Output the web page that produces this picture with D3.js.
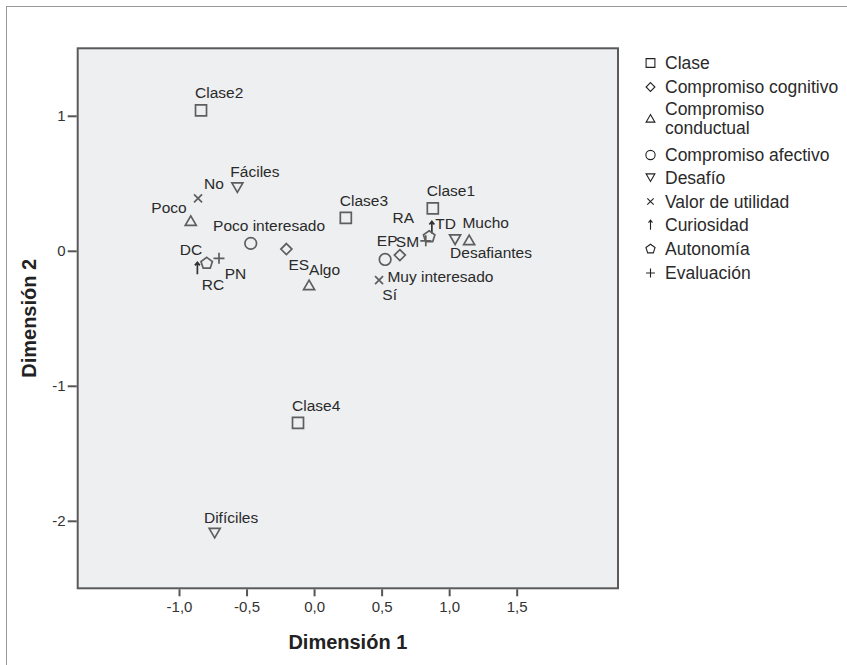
<!DOCTYPE html>
<html>
<head>
<meta charset="utf-8">
<script src="https://d3js.org/d3.v7.min.js"></script>
<style>
  body { margin: 0; background: #fff; }
  text { font-family: "Liberation Sans", Arial, sans-serif; }
</style>
</head>
<body>
<svg id="main_canvas" width="847" height="665"></svg>
<script>
    // categories (legend order)
    const categories = ["Clase", "Compromiso cognitivo", "Compromiso conductual", "Compromiso afectivo",
        "Desafío", "Valor de utilidad", "Curiosidad", "Autonomía", "Evaluación"];

    // points: label, category index, Dimensión 1, Dimensión 2
    const pointLabels = ["Clase1", "Clase2", "Clase3", "Clase4", "ES", "SM", "Poco", "Algo", "Mucho",
        "Poco interesado", "Muy interesado", "Fáciles", "Difíciles", "Desafiantes", "No", "Sí",
        "DC", "TD", "RC", "RA", "PN", "EP"];
    const pointGroup = [0, 0, 0, 0, 1, 1, 2, 2, 2, 3, 3, 4, 4, 4, 5, 5, 6, 6, 7, 7, 8, 8];
    const dim1 = [0.879, -0.837, 0.235, -0.119, -0.205, 0.635, -0.913, -0.037, 1.148,
        -0.469, 0.526, -0.568, -0.736, 1.044, -0.859, 0.481, -0.864, 0.872, -0.795, 0.852, -0.704, 0.827];
    const dim2 = [0.314, 1.04, 0.244, -1.274, 0.013, -0.032, 0.222, -0.254, 0.079,
        0.055, -0.064, 0.47, -2.089, 0.084, 0.388, -0.217, -0.13, 0.173, -0.093, 0.104, -0.056, 0.074];

    const xTicks = [-1.0, -0.5, 0.0, 0.5, 1.0, 1.5];
    const yTicks = [1, 0, -1, -2];

    // label placement (pixels from the marker), like SPSS puts them
    const labelOffset = {
        "Clase1": [-6, -17.5], "Clase2": [-6, -17.5], "Clase3": [-6, -17.5], "Clase4": [-6, -17.5],
        "ES": [2, 16], "SM": [-4, -14], "Poco": [-39.4, -13.4], "Algo": [0, -16], "Mucho": [-6.7, -17.3],
        "Poco interesado": [-37.7, -18.3], "Muy interesado": [2.3, 16.7], "Fáciles": [-7, -15.6],
        "Difíciles": [-10.7, -15], "Desafiantes": [-5, 13.4], "No": [6, -15], "Sí": [3.3, 14],
        "DC": [-17.6, -19], "TD": [3.3, -4], "RC": [-5, 21.7], "RA": [-36.7, -19],
        "PN": [5.7, 15.7], "EP": [-49, 0]
    };

    const margins = { left: 77.7, right: 229, top: 48.3, bottom: 76.7 };
    const W = 847, H = 665;

    const x = d3.scaleLinear().domain([-1.75, 2.25]).range([margins.left, W - margins.right]);
    const y = d3.scaleLinear().domain([-2.5, 1.5]).range([H - margins.bottom, margins.top]);

    const fmt = v => d3.format(".1f")(v).replace(".", ",").replace("−", "-");

    // marker paths, s = size scale
    const shapePath = (k, s) => {
        const p = d3.path();
        if (k === 0) { p.rect(-5.5 * s, -5.5 * s, 11 * s, 11 * s); }
        else if (k === 1) { p.moveTo(0, -5.5 * s); p.lineTo(5.5 * s, 0); p.lineTo(0, 5.5 * s); p.lineTo(-5.5 * s, 0); p.closePath(); }
        else if (k === 2) { p.moveTo(0, -5 * s); p.lineTo(5.5 * s, 4.5 * s); p.lineTo(-5.5 * s, 4.5 * s); p.closePath(); }
        else if (k === 3) { p.arc(0, 0, 5.8 * s, 0, 2 * Math.PI); p.closePath(); }
        else if (k === 4) { p.moveTo(0, 5 * s); p.lineTo(5.5 * s, -4.5 * s); p.lineTo(-5.5 * s, -4.5 * s); p.closePath(); }
        else if (k === 5) { p.moveTo(-4 * s, -4 * s); p.lineTo(4 * s, 4 * s); p.moveTo(4 * s, -4 * s); p.lineTo(-4 * s, 4 * s); }
        else if (k === 6) { p.moveTo(0, 6 * s); p.lineTo(0, -6 * s); p.moveTo(-2.5 * s, -3 * s); p.lineTo(0, -6 * s); p.lineTo(2.5 * s, -3 * s); }
        else if (k === 7) {
            for (let i = 0; i < 5; i++) {
                const a = -Math.PI / 2 + i * 2 * Math.PI / 5;
                const px = 6 * s * Math.cos(a), py = 6 * s * Math.sin(a);
                if (i === 0) p.moveTo(px, py); else p.lineTo(px, py);
            }
            p.closePath();
        }
        else { p.moveTo(-5.5 * s, 0); p.lineTo(5.5 * s, 0); p.moveTo(0, -5.5 * s); p.lineTo(0, 5.5 * s); }
        return p.toString();
    };

    const svg = d3.select("#main_canvas");

    // outer frame (only left/top edge visible)
    svg.append("rect").attr("x", 6.5).attr("y", 6.5).attr("width", 900).attr("height", 700)
        .attr("fill", "none").attr("stroke", "#9a9a9a").attr("stroke-width", 1);

    svg.append("rect")
        .attr("x", x(-1.75)).attr("y", y(1.5))
        .attr("width", x(2.25) - x(-1.75)).attr("height", y(-2.5) - y(1.5))
        .attr("fill", "#eeeff1").attr("stroke", "#5a5a5a").attr("stroke-width", 2);

    // axes
    const xAxis = svg.append("g").attr("transform", `translate(0,${y(-2.5) + 1})`)
        .call(d3.axisBottom(x).tickValues(xTicks).tickFormat(fmt).tickSize(7).tickPadding(5));
    const yAxis = svg.append("g").attr("transform", `translate(${x(-1.75) - 1},0)`)
        .call(d3.axisLeft(y).tickValues(yTicks).tickFormat(d => String(d)).tickSize(9).tickPadding(2));
    [xAxis, yAxis].forEach(g => {
        g.select(".domain").remove();
        g.selectAll(".tick line").attr("stroke", "#555").attr("stroke-width", 2);
        g.selectAll(".tick text").attr("fill", "#333").style("font-size", "15px");
    });

    svg.append("text").attr("x", (x(-1.75) + x(2.25)) / 2).attr("y", 649)
        .attr("text-anchor", "middle").attr("font-weight", "bold").attr("fill", "#222")
        .style("font-size", "20px").text("Dimensión 1");
    svg.append("text").attr("transform", `translate(36,${(y(1.5) + y(-2.5)) / 2}) rotate(-90)`)
        .attr("text-anchor", "middle").attr("font-weight", "bold").attr("fill", "#222")
        .style("font-size", "20px").text("Dimensión 2");

    // points
    const pts = pointLabels.map((l, i) => ({ label: l, g: pointGroup[i], d1: dim1[i], d2: dim2[i] }));
    const marks = svg.append("g").selectAll("g").data(pts).join("g")
        .attr("transform", d => `translate(${x(d.d1)},${y(d.d2)})`);
    marks.append("path")
        .attr("d", d => shapePath(d.g, 1))
        .attr("fill", "none")
        .attr("stroke", d => d.g === 6 ? "#333" : "#5e5e5e")
        .attr("stroke-width", 1.7);
    marks.append("text")
        .attr("x", d => labelOffset[d.label][0])
        .attr("y", d => labelOffset[d.label][1])
        .attr("dy", "0.35em")
        .attr("fill", "#2a2a2a")
        .style("font-size", "15.5px")
        .text(d => d.label);

    // legend
    const legendY = [63, 87, 118.5, 155, 177.5, 201.5, 225, 249, 273];
    const legend = svg.append("g").selectAll("g").data(categories).join("g")
        .attr("transform", (d, i) => `translate(650.5,${legendY[i]})`);
    legend.append("path")
        .attr("d", (d, i) => shapePath(i, 0.8))
        .attr("fill", "none").attr("stroke", "#222").attr("stroke-width", 1.1);
    legend.append("text")
        .attr("x", 14.5)
        .attr("fill", "#2a2a2a")
        .style("font-size", "17.5px")
        .each(function (d) {
            const t = d3.select(this);
            if (d === "Compromiso conductual") {
                t.append("tspan").attr("x", 14.5).attr("y", -9.2).attr("dy", "0.35em").text("Compromiso");
                t.append("tspan").attr("x", 14.5).attr("y", 9.8).attr("dy", "0.35em").text("conductual");
            } else {
                t.attr("dy", "0.35em").text(d);
            }
        });
</script>
</body>
</html>
